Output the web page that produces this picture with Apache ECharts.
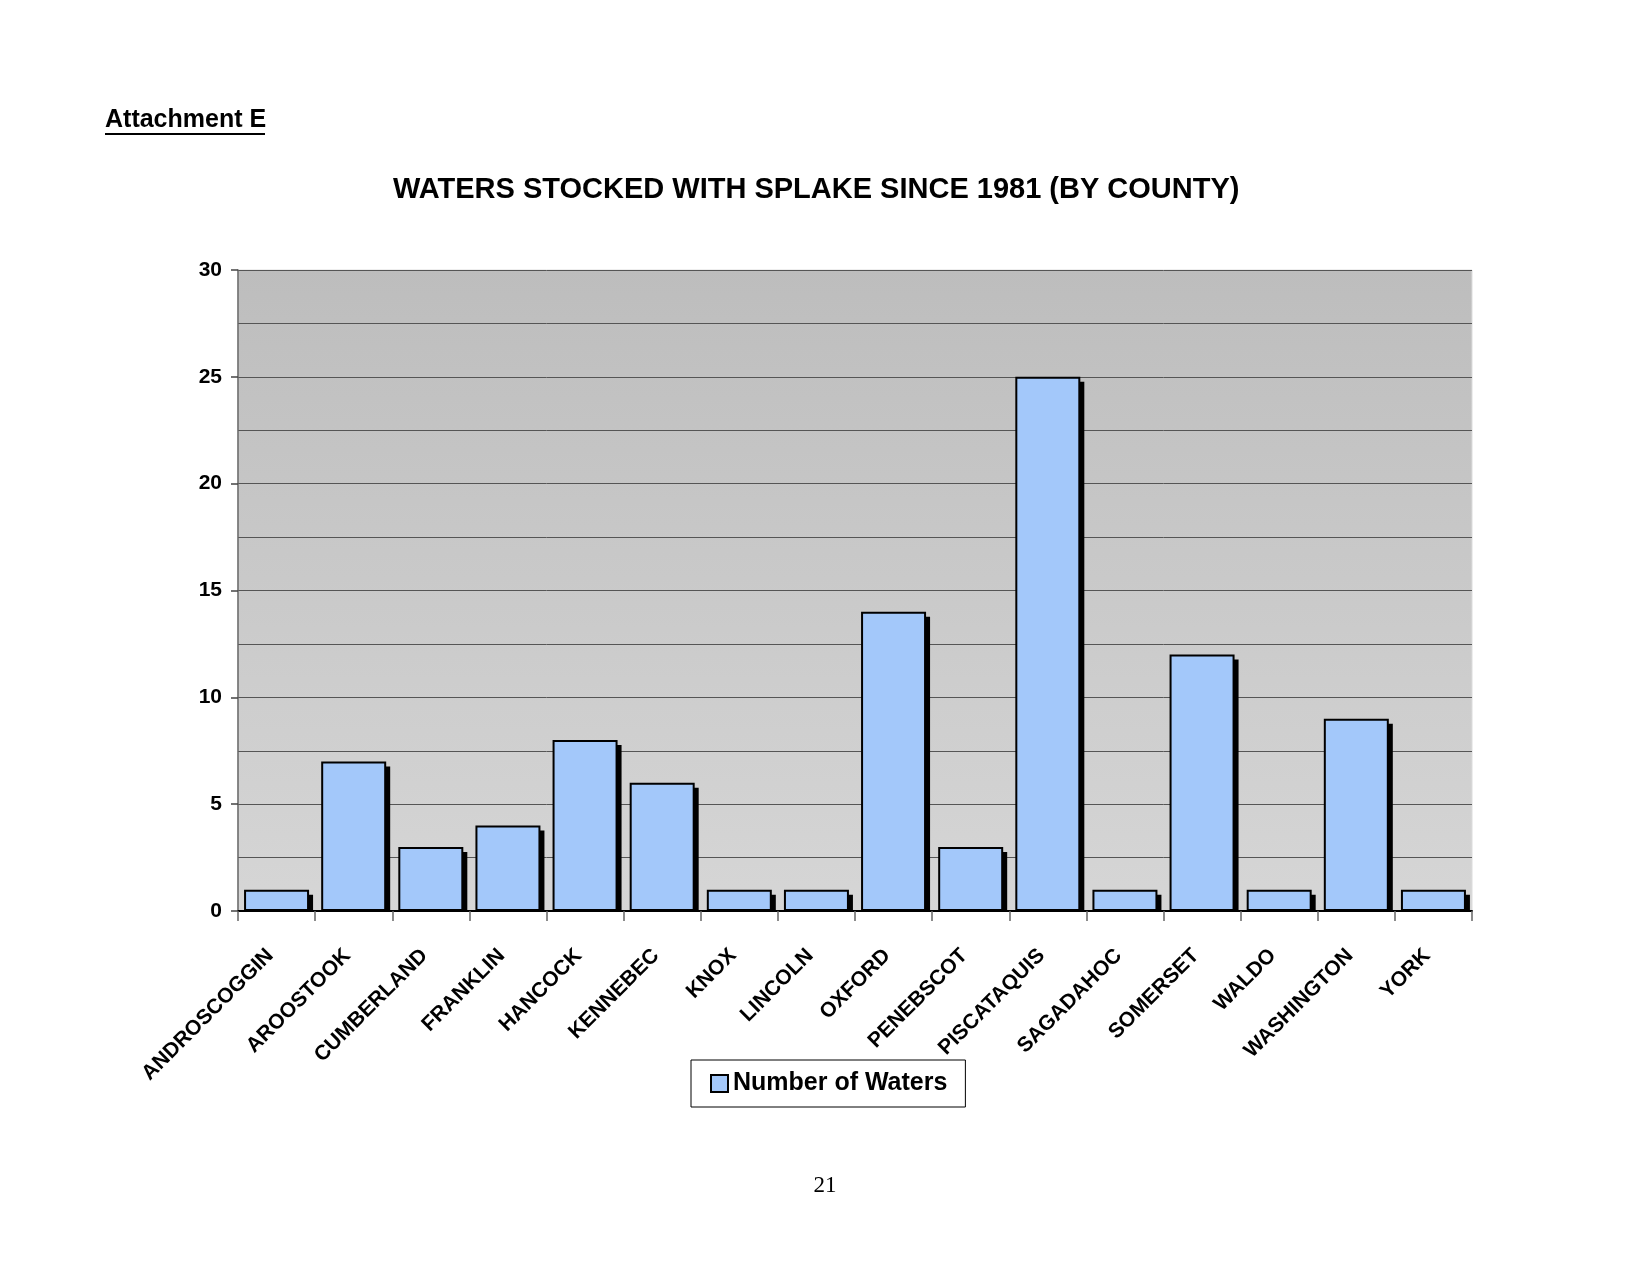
<!DOCTYPE html>
<html>
<head>
<meta charset="utf-8">
<script src="https://cdn.jsdelivr.net/npm/echarts@6/dist/echarts.min.js"></script>
<style>
html,body{margin:0;padding:0;background:#fff;}
#main{width:1650px;height:1275px;}
</style>
</head>
<body>
<div id="main"></div>
<script>
const counties = ['ANDROSCOGGIN','AROOSTOOK','CUMBERLAND','FRANKLIN','HANCOCK','KENNEBEC','KNOX','LINCOLN','OXFORD','PENEBSCOT','PISCATAQUIS','SAGADAHOC','SOMERSET','WALDO','WASHINGTON','YORK'];
const numberOfWaters = [1,7,3,4,8,6,1,1,14,3,25,1,12,1,9,1];
const seriesName = 'Number of Waters';
const chartTitle = 'WATERS STOCKED WITH SPLAKE SINCE 1981 (BY COUNTY)';
const headerText = 'Attachment E';
const pageNumber = '21';

const BAR_W = 65;
const chart = echarts.init(document.getElementById('main'));
chart.setOption({
  backgroundColor: '#ffffff',
  animation: false,
  title: {
    text: chartTitle,
    left: 388,
    top: 170,
    textStyle: {fontFamily: 'Liberation Sans, Arial', fontWeight: 'bold', fontSize: 29, color: '#000'}
  },
  graphic: [
    {type: 'text', left: 105, top: 108, style: {text: headerText, font: 'bold 25px "Liberation Sans", Arial', fill: '#000'}},
    {type: 'rect', shape: {x: 105, y: 133, width: 160, height: 2}, style: {fill: '#000'}},
    {type: 'text', left: 'center', top: 1174, style: {text: pageNumber, font: '23px "Liberation Serif", "Times New Roman", serif', fill: '#000'}}
  ],
  legend: {
    data: [seriesName],
    left: 691,
    top: 1060,
    padding: [11, 18, 11, 19],
    borderColor: '#000',
    borderWidth: 1,
    itemWidth: 17,
    itemHeight: 17,
    icon: 'rect',
    textStyle: {fontFamily: 'Liberation Sans, Arial', fontWeight: 'bold', fontSize: 25, color: '#000'}
  },
  grid: {
    left: 238, right: 178, top: 270, bottom: 364,
    show: true,
    borderColor: '#dcdcdc',
    borderWidth: 1,
    backgroundColor: {type: 'linear', x: 0, y: 0, x2: 0, y2: 1, colorStops: [{offset: 0, color: '#bdbdbd'}, {offset: 1, color: '#d6d6d6'}]}
  },
  xAxis: {
    type: 'category',
    data: counties,
    axisLine: {lineStyle: {color: '#000', width: 2}},
    axisTick: {show: true, length: 10, lineStyle: {color: '#666', width: 1.5}},
    axisLabel: {rotate: 45, margin: 35, interval: 0, padding: [0, 9, 0, 0], fontFamily: 'Liberation Sans, Arial', fontWeight: 'bold', fontSize: 21, color: '#000'}
  },
  yAxis: {
    type: 'value',
    min: 0, max: 30, interval: 5,
    axisLine: {show: true, lineStyle: {color: '#666', width: 1.5}},
    axisTick: {show: true, length: 7, lineStyle: {color: '#444', width: 1.5}},
    axisLabel: {margin: 16, fontFamily: 'Liberation Sans, Arial', fontWeight: 'bold', fontSize: 21, color: '#000'},
    splitLine: {show: true, lineStyle: {color: '#555', width: 1}},
    minorTick: {show: false, splitNumber: 2},
    minorSplitLine: {show: true, lineStyle: {color: '#555', width: 1}}
  },
  series: [
    {
      name: 'shadow',
      type: 'custom',
      z: 1,
      silent: true,
      data: numberOfWaters.map((v, i) => [i, v]),
      renderItem: function (params, api) {
        const top = api.coord([api.value(0), api.value(1)]);
        const base = api.coord([api.value(0), 0]);
        const x = top[0] - BAR_W / 2 + 4;
        const y = top[1] + 5;
        return {
          type: 'rect',
          shape: {x: x, y: y, width: BAR_W, height: Math.max(0, base[1] - y)},
          style: {fill: '#000'}
        };
      }
    },
    {
      name: seriesName,
      type: 'bar',
      z: 2,
      data: numberOfWaters,
      barWidth: BAR_W,
      itemStyle: {
        color: '#a3c8fa',
        borderColor: '#000',
        borderWidth: 2
      }
    }
  ]
});
</script>
</body>
</html>
